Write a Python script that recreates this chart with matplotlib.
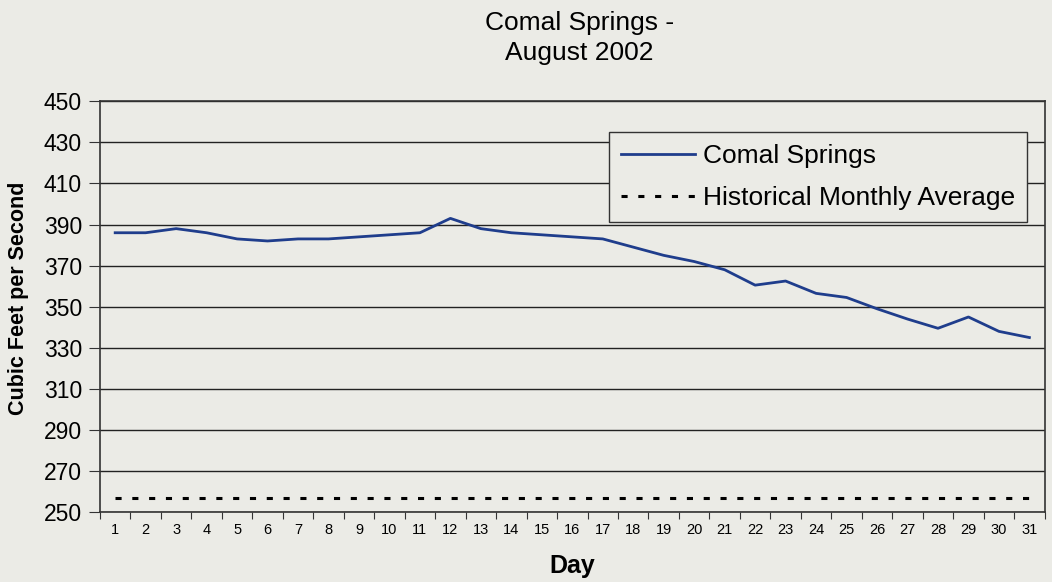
import matplotlib
matplotlib.use("Agg")
import matplotlib.pyplot as plt

plt.rcParams['font.family'] = ['Liberation Sans', 'DejaVu Sans']

# daily flow, Comal Springs, August 2002 (cfs)
days = list(range(1, 32))
flow = [386, 386, 388, 386, 383, 382, 383, 383, 384, 385,
        386, 393, 388, 386, 385, 384, 383, 379, 375, 372,
        368, 360.5, 362.5, 356.5, 354.5, 349, 344, 339.5, 345, 338,
        335]
hist_avg = 257

bg = "#ebebe6"
fig = plt.figure(figsize=(10.52, 5.82), dpi=100, facecolor=bg)
ax = fig.add_axes([0.095, 0.12, 0.898, 0.706], facecolor=bg)

ax.plot(days, flow, color="#1f3d8c", lw=2, label="Comal Springs")
ax.plot(days, [hist_avg] * len(days), color="black", lw=2.2,
        ls=(0, (2, 3.5)), label="Historical Monthly Average")

ax.set_xlim(0.5, 31.5)
ax.set_ylim(250, 450)
ax.set_yticks(range(250, 451, 20))
ax.yaxis.grid(True, color="#222222", lw=1)
ax.set_axisbelow(True)

# ticks between the days, labels on the days
ax.set_xticks([d + 0.5 for d in range(0, 32)])
ax.set_xticklabels([])
ax.set_xticks(days, minor=True)
ax.set_xticklabels([str(d) for d in days], minor=True, fontsize=10.5)
ax.tick_params(axis="x", which="major", direction="out", length=5, color="#333333")
ax.tick_params(axis="x", which="minor", length=0, pad=8)
ax.tick_params(axis="y", direction="out", length=8, pad=5, labelsize=16.5,
               color="#333333")

for s in ax.spines.values():
    s.set_color("#333333")
    s.set_linewidth(1.2)

ax.set_xlabel("Day", fontsize=18, fontweight="bold", labelpad=12)
ax.set_ylabel("Cubic Feet per Second", fontsize=15.5, fontweight="bold")
ax.yaxis.set_label_coords(-0.075, 0.52)
fig.text(0.551, 0.935, "Comal Springs -\nAugust 2002", ha="center", va="center",
         fontsize=19, linespacing=1.3)

leg = ax.legend(loc="upper right", bbox_to_anchor=(0.981, 0.925), fontsize=19,
                frameon=True, fancybox=False, facecolor=bg, framealpha=1,
                edgecolor="#333333", handlelength=2.8, handletextpad=0.3,
                borderpad=0.45, labelspacing=0.7, borderaxespad=0)
leg.get_frame().set_linewidth(1)

fig.savefig("out.png", dpi=100, facecolor=bg)
